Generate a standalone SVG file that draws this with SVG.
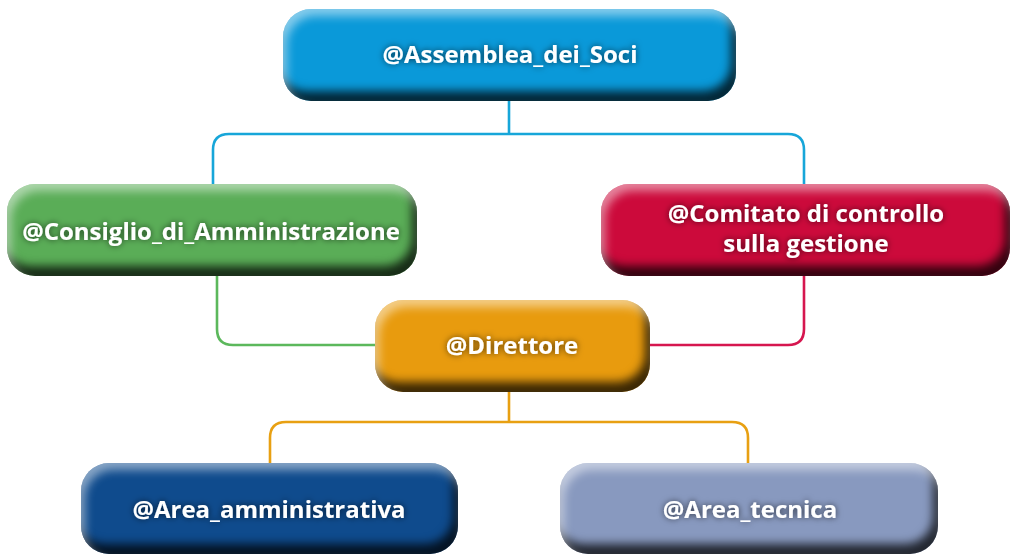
<svg xmlns="http://www.w3.org/2000/svg" width="1011" height="555" viewBox="0 0 1011 555">
  <defs>
    <filter id="bevel" x="-5%" y="-15%" width="110%" height="130%" color-interpolation-filters="sRGB">
      <feGaussianBlur in="SourceAlpha" stdDeviation="5" result="b"/>
      <feOffset in="b" dx="-5" dy="-10" result="ob"/>
      <feComposite in="SourceAlpha" in2="ob" operator="out" result="shadowArea"/>
      <feFlood flood-color="#000" flood-opacity="0.75"/>
      <feComposite in2="shadowArea" operator="in" result="dark"/>
      <feOffset in="b" dx="4" dy="7" result="ob2"/>
      <feComposite in="SourceAlpha" in2="ob2" operator="out" result="hiArea"/>
      <feFlood flood-color="#fff" flood-opacity="0.5"/>
      <feComposite in2="hiArea" operator="in" result="light"/>
      <feMerge>
        <feMergeNode in="SourceGraphic"/>
        <feMergeNode in="dark"/>
        <feMergeNode in="light"/>
      </feMerge>
    </filter>
    <filter id="tshadow" x="-10%" y="-40%" width="120%" height="180%">
      <feGaussianBlur in="SourceAlpha" stdDeviation="3" result="b"/>
      <feFlood flood-color="#000" flood-opacity="0.65"/>
      <feComposite in2="b" operator="in" result="s"/>
      <feMerge>
        <feMergeNode in="s"/>
        <feMergeNode in="SourceGraphic"/>
      </feMerge>
    </filter>
  </defs>
  <style>
    .box { filter: url(#bevel); }
    .lbl { font-family: "Open Sans", "Noto Sans", "DejaVu Sans", sans-serif; font-weight: bold; font-size: 24px; fill: #ffffff; text-anchor: middle; filter: url(#tshadow); }
    .ln { fill: none; stroke-width: 2.6; }
  </style>
  <g id="connectors">
    <path class="ln" stroke="#17a6d9" d="M509,100 V134 M213,184 V150 Q213,134 229,134 H788 Q804,134 804,150 V184"/>
    <path class="ln" stroke="#5cb85c" d="M217,276 V329 Q217,345 233,345 H376"/>
    <path class="ln" stroke="#d6164f" d="M804,276 V329 Q804,345 788,345 H649"/>
    <path class="ln" stroke="#e8a012" d="M509,391 V422 M270,463 V438 Q270,422 286,422 H732 Q748,422 748,438 V463"/>
  </g>
  <g id="node-assemblea">
    <rect class="box" x="283" y="9" width="453" height="92" rx="28" fill="#0a99d9"/>
    <text class="lbl" x="510" y="63">@Assemblea_dei_Soci</text>
  </g>
  <g id="node-consiglio">
    <rect class="box" x="7" y="184" width="410" height="92" rx="28" fill="#5aad57"/>
    <text class="lbl" x="211" y="240">@Consiglio_di_Amministrazione</text>
  </g>
  <g id="node-comitato">
    <rect class="box" x="601" y="184" width="409" height="92" rx="28" fill="#cc0a3b"/>
    <text class="lbl" x="806" y="222"><tspan x="806" y="222">@Comitato di controllo</tspan><tspan x="806" y="252">sulla gestione</tspan></text>
  </g>
  <g id="node-direttore">
    <rect class="box" x="375" y="300" width="275" height="92" rx="28" fill="#e89b0e"/>
    <text class="lbl" x="512" y="354">@Direttore</text>
  </g>
  <g id="node-area-amministrativa">
    <rect class="box" x="81" y="463" width="377" height="91" rx="28" fill="#0f4b8d"/>
    <text class="lbl" x="269" y="518">@Area_amministrativa</text>
  </g>
  <g id="node-area-tecnica">
    <rect class="box" x="560" y="463" width="378" height="91" rx="28" fill="#8899bf"/>
    <text class="lbl" x="750" y="518">@Area_tecnica</text>
  </g>
</svg>
